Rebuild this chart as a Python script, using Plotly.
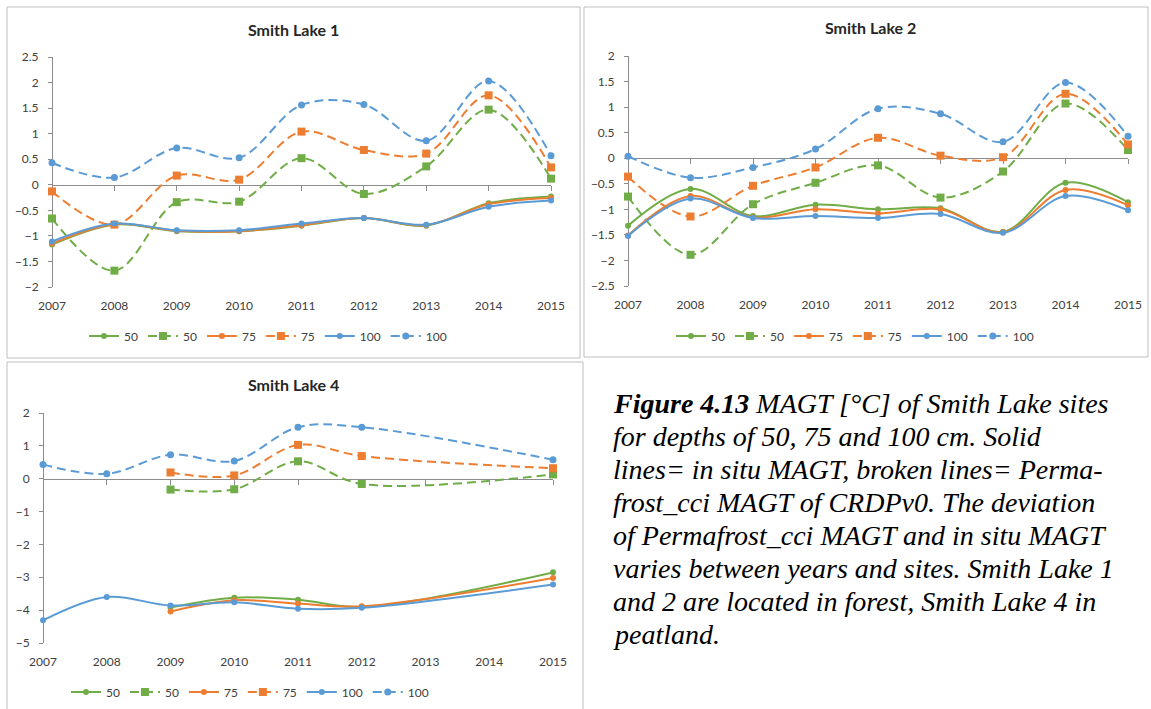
import plotly.graph_objects as go

W, H = 1151, 709

years = [2007, 2008, 2009, 2010, 2011, 2012, 2013, 2014, 2015]
depth_labels = ["50", "75", "100"]

# Smith Lake 1 (in situ = solid, Permafrost_cci = dashed)
sl1_insitu_50 = [-1.17, -0.78, -0.91, -0.91, -0.80, -0.65, -0.80, -0.36, -0.23]
sl1_insitu_75 = [-1.15, -0.77, -0.90, -0.91, -0.79, -0.65, -0.79, -0.38, -0.26]
sl1_insitu_100 = [-1.11, -0.76, -0.89, -0.89, -0.76, -0.65, -0.78, -0.43, -0.31]
sl1_cci_50 = [-0.66, -1.68, -0.34, -0.33, 0.52, -0.18, 0.36, 1.47, 0.12]
sl1_cci_75 = [-0.13, -0.78, 0.18, 0.10, 1.04, 0.68, 0.61, 1.75, 0.34]
sl1_cci_100 = [0.43, 0.14, 0.72, 0.53, 1.56, 1.57, 0.86, 2.03, 0.57]

# Smith Lake 2
sl2_insitu_50 = [-1.32, -0.60, -1.13, -0.91, -1.00, -0.98, -1.44, -0.48, -0.86]
sl2_insitu_75 = [-1.51, -0.74, -1.16, -1.00, -1.08, -1.00, -1.45, -0.62, -0.92]
sl2_insitu_100 = [-1.52, -0.79, -1.17, -1.13, -1.17, -1.09, -1.46, -0.74, -1.02]
sl2_cci_50 = [-0.75, -1.89, -0.90, -0.48, -0.14, -0.77, -0.26, 1.07, 0.16]
sl2_cci_75 = [-0.36, -1.14, -0.54, -0.18, 0.40, 0.05, 0.02, 1.26, 0.27]
sl2_cci_100 = [0.04, -0.38, -0.18, 0.18, 0.97, 0.87, 0.32, 1.48, 0.43]

# Smith Lake 4
sl4_insitu_50 = [None, None, -3.92, -3.62, -3.68, -3.90, None, None, -2.85]
sl4_insitu_75 = [None, None, -4.04, -3.70, -3.80, -3.88, None, None, -3.02]
sl4_insitu_100 = [-4.31, -3.60, -3.86, -3.76, -3.96, -3.93, None, None, -3.22]
sl4_cci_50 = [None, None, -0.33, -0.32, 0.53, -0.16, None, None, 0.13]
sl4_cci_75 = [None, None, 0.19, 0.10, 1.03, 0.69, None, None, 0.32]
sl4_cci_100 = [0.43, 0.15, 0.73, 0.54, 1.57, 1.57, None, None, 0.58]

panel_titles = ["Smith Lake 1", "Smith Lake 2", "Smith Lake 4"]

caption_lines = [
    "<b>Figure 4.13</b> MAGT [°C] of Smith Lake sites",
    "for depths of 50, 75 and 100 cm. Solid",
    "lines= in situ MAGT, broken lines= Perma-",
    "frost_cci MAGT of CRDPv0. The deviation",
    "of Permafrost_cci MAGT and in situ MAGT",
    "varies between years and sites. Smith Lake 1",
    "and 2 are located in forest, Smith Lake 4 in",
    "peatland.",
]

GREEN, ORANGE, BLUE = "#70AD47", "#ED7D31", "#5B9BD5"
colors = [GREEN, ORANGE, BLUE]
TICK_FONT = dict(family="Lato, Open Sans, sans-serif", size=12, color="#404040")
AXIS_COLOR = "#8C8C8C"
BORDER_COLOR = "#BFBFBF"

panels = [
    dict(data=[(sl1_insitu_50, sl1_cci_50), (sl1_insitu_75, sl1_cci_75), (sl1_insitu_100, sl1_cci_100)],
         px=(52, 551), py=(57, 287), yr=(-2, 2.5), dt=0.5,
         box=(7, 7, 580, 358), title_xy=(293, 29), legend_xy=(268, 336)),
    dict(data=[(sl2_insitu_50, sl2_cci_50), (sl2_insitu_75, sl2_cci_75), (sl2_insitu_100, sl2_cci_100)],
         px=(628, 1128), py=(56, 286), yr=(-2.5, 2), dt=0.5,
         box=(584, 7, 1148, 357), title_xy=(870, 27), legend_xy=(855, 336)),
    dict(data=[(sl4_insitu_50, sl4_cci_50), (sl4_insitu_75, sl4_cci_75), (sl4_insitu_100, sl4_cci_100)],
         px=(43, 553), py=(413, 643), yr=(-5, 2), dt=1,
         box=(7, 362, 583, 730), title_xy=(293, 384), legend_xy=(250, 692)),
]

fig = go.Figure()
layout = dict(
    width=W, height=H, margin=dict(l=0, r=0, t=0, b=0, pad=0, autoexpand=False),
    paper_bgcolor="white", plot_bgcolor="rgba(0,0,0,0)",
    showlegend=True, shapes=[], annotations=[],
)


def fx(p):
    return p / W


def fy(p):
    return 1 - p / H


for i, pan in enumerate(panels):
    n = i + 1
    xa = "x" if n == 1 else f"x{n}"
    ya = "y" if n == 1 else f"y{n}"
    xkey = "xaxis" if n == 1 else f"xaxis{n}"
    ykey = "yaxis" if n == 1 else f"yaxis{n}"
    lab_n = n + 3
    leg = "legend" if n == 1 else f"legend{n}"

    for k, (insitu, cci) in enumerate(pan["data"]):
        c = colors[k]
        fig.add_trace(go.Scatter(
            x=years, y=insitu, xaxis=xa, yaxis=ya, legend=leg, name=depth_labels[k],
            mode="lines+markers", connectgaps=True, cliponaxis=False,
            line=dict(color=c, width=2, shape="spline", smoothing=1),
            marker=dict(symbol="circle", size=6, color=c),
        ))
        fig.add_trace(go.Scatter(
            x=years, y=cci, xaxis=xa, yaxis=ya, legend=leg, name=depth_labels[k],
            mode="lines+markers", connectgaps=True, cliponaxis=False,
            line=dict(color=c, width=2, dash="9px,5px", shape="spline", smoothing=1),
            marker=dict(symbol="square" if k < 2 else "circle", size=8 if k < 2 else 7, color=c),
        ))

    # invisible carrier trace so the bottom year-label axis gets drawn
    fig.add_trace(go.Scatter(
        x=years, y=[None] * len(years), xaxis=f"x{lab_n}", yaxis=ya, mode="lines",
        showlegend=False, hoverinfo="skip",
    ))

    x0, x1 = pan["px"]
    ytop, ybot = pan["py"]
    ymin, ymax = pan["yr"]
    ydom = [fy(ybot), fy(ytop)]
    zero_pos = ydom[0] + (0 - ymin) / (ymax - ymin) * (ydom[1] - ydom[0])
    ticks = []
    v = ymin
    while v <= ymax + 1e-9:
        ticks.append(round(v, 2))
        v += pan["dt"]

    layout[xkey] = dict(
        domain=[fx(x0), fx(x1)], range=[2007, 2015], anchor="free", position=zero_pos,
        showline=True, linecolor=AXIS_COLOR, linewidth=1, ticks="outside", ticklen=5,
        tickcolor=AXIS_COLOR, tickvals=years, showticklabels=False, showgrid=False,
        zeroline=False, layer="below traces", automargin=False,
    )
    layout[f"xaxis{lab_n}"] = dict(
        overlaying=xa, domain=[fx(x0), fx(x1)], range=[2007, 2015], anchor="free",
        position=ydom[0], showline=False, ticks="", tickvals=years,
        ticktext=[str(y) for y in years], tickfont=TICK_FONT, showgrid=False,
        zeroline=False, ticklabelstandoff=10, automargin=False,
    )
    layout[ykey] = dict(
        domain=ydom, range=[ymin, ymax], anchor="free", position=fx(x0),
        showline=True, linecolor=AXIS_COLOR, linewidth=1, ticks="outside", ticklen=4,
        tickcolor=AXIS_COLOR, tickvals=ticks, tickfont=TICK_FONT, showgrid=False,
        zeroline=False, ticklabelstandoff=7, layer="below traces", automargin=False,
    )
    lx, ly = pan["legend_xy"]
    layout[leg] = dict(
        orientation="h", x=fx(lx), y=fy(ly), xanchor="center", yanchor="middle",
        font=TICK_FONT, bgcolor="rgba(0,0,0,0)", itemwidth=30, tracegroupgap=0,
    )
    bx0, by0, bx1, by1 = pan["box"]
    layout["shapes"].append(dict(
        type="rect", xref="paper", yref="paper", x0=fx(bx0), x1=fx(bx1), y0=fy(by1), y1=fy(by0),
        line=dict(color=BORDER_COLOR, width=1), fillcolor="rgba(0,0,0,0)", layer="below",
    ))
    tx, ty = pan["title_xy"]
    layout["annotations"].append(dict(
        text=f"<b>{panel_titles[i]}</b>", xref="paper", yref="paper", x=fx(tx), y=fy(ty),
        xanchor="center", yanchor="middle", showarrow=False,
        font=dict(family="Lato, Open Sans, sans-serif", size=16, color="#262626"),
    ))

for j, line in enumerate(caption_lines):
    layout["annotations"].append(dict(
        text=f"<i>{line}</i>", xref="paper", yref="paper", x=fx(611), y=fy(403 + 33 * j),
        xanchor="left", yanchor="middle", showarrow=False,
        font=dict(family="Liberation Serif, Times New Roman, serif", size=28, color="black"),
    ))

fig.update_layout(**layout)
fig.write_html(
    "out.html",
    config={"displayModeBar": False},
    post_script="document.body.style.margin='0';document.body.style.overflow='hidden';",
)
